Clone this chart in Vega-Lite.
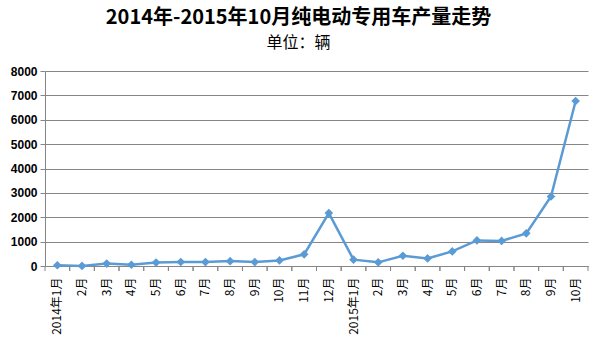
{
  "$schema": "https://vega.github.io/schema/vega-lite/v6.json",
  "autosize": "none",
  "width": 543,
  "height": 195,
  "padding": {"left": 45, "top": 71, "right": 11, "bottom": 82},
  "background": "white",
  "title": {
    "text": "2014年-2015年10月纯电动专用车产量走势",
    "subtitle": "单位：辆",
    "anchor": "middle",
    "dx": -18,
    "offset": 14,
    "font": "Noto Sans CJK SC",
    "fontSize": 20,
    "fontWeight": "bold",
    "color": "#000000",
    "subtitleFont": "Noto Sans CJK SC",
    "subtitleFontSize": 16,
    "subtitleColor": "#000000",
    "subtitlePadding": 7
  },
  "data": {
    "values": [
      {"month": "2014年1月", "value": 30},
      {"month": "2014年2月", "value": 5},
      {"month": "2014年3月", "value": 100},
      {"month": "2014年4月", "value": 50},
      {"month": "2014年5月", "value": 140},
      {"month": "2014年6月", "value": 165},
      {"month": "2014年7月", "value": 160},
      {"month": "2014年8月", "value": 200},
      {"month": "2014年9月", "value": 160},
      {"month": "2014年10月", "value": 230},
      {"month": "2014年11月", "value": 480},
      {"month": "2014年12月", "value": 2170},
      {"month": "2015年1月", "value": 260},
      {"month": "2015年2月", "value": 150},
      {"month": "2015年3月", "value": 420},
      {"month": "2015年4月", "value": 310},
      {"month": "2015年5月", "value": 600},
      {"month": "2015年6月", "value": 1050},
      {"month": "2015年7月", "value": 1030},
      {"month": "2015年8月", "value": 1340},
      {"month": "2015年9月", "value": 2850},
      {"month": "2015年10月", "value": 6770}
    ]
  },
  "config": {
    "view": {"stroke": null},
    "axisY": {
      "title": null,
      "labelFont": "Liberation Sans",
      "labelFontSize": 12,
      "labelFontWeight": "bold",
      "labelColor": "#000000",
      "labelPadding": 3,
      "tickColor": "#868686",
      "tickSize": 5,
      "domainColor": "#868686",
      "grid": true,
      "gridColor": "#868686",
      "gridWidth": 1
    }
  },
  "layer": [
    {
      "mark": {
        "type": "line",
        "color": "#5B9BD5",
        "strokeWidth": 2.5,
        "point": {"shape": "diamond", "size": 75, "filled": true, "color": "#5B9BD5"}
      },
      "encoding": {
        "x": {
          "field": "month",
          "type": "ordinal",
          "sort": null,
          "scale": {"paddingInner": 0, "paddingOuter": 0},
          "axis": {
            "title": null,
            "labelAngle": 270,
            "labelExpr": "slice(datum.value,5)=='1月' ? datum.value : slice(datum.value,5)",
            "labelFont": "Noto Sans CJK SC",
            "labelFontSize": 12,
            "labelColor": "#000000",
            "labelPadding": 11,
            "ticks": false,
            "domainColor": "#868686",
            "grid": false
          }
        },
        "y": {
          "field": "value",
          "type": "quantitative",
          "scale": {"domain": [0, 8000]},
          "axis": {"title": null, "values": [0, 1000, 2000, 3000, 4000, 5000, 6000, 7000, 8000], "format": "d"}
        }
      }
    },
    {
      "mark": {"type": "rule", "color": "#868686", "strokeWidth": 1, "y2Offset": 5},
      "encoding": {
        "x": {"field": "month", "type": "ordinal", "sort": null, "bandPosition": 0},
        "y": {
          "datum": 0,
          "type": "quantitative",
          "scale": {"domain": [0, 8000]},
          "axis": {"title": null, "values": [0, 1000, 2000, 3000, 4000, 5000, 6000, 7000, 8000], "format": "d"}
        },
        "y2": {"datum": 0}
      }
    },
    {
      "mark": {"type": "rule", "color": "#868686", "strokeWidth": 1, "y2Offset": 5},
      "encoding": {
        "x": {"field": "month", "type": "ordinal", "sort": null, "bandPosition": 1},
        "y": {
          "datum": 0,
          "type": "quantitative",
          "scale": {"domain": [0, 8000]},
          "axis": {"title": null, "values": [0, 1000, 2000, 3000, 4000, 5000, 6000, 7000, 8000], "format": "d"}
        },
        "y2": {"datum": 0}
      }
    }
  ]
}
